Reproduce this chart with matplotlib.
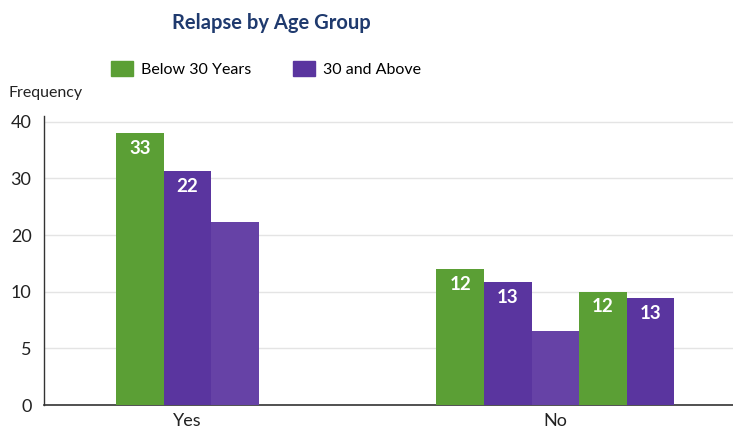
import numpy as np
import matplotlib.pyplot as plt
from matplotlib.patches import Patch

plt.rcParams['font.family'] = ['Lato', 'DejaVu Sans']

# Data
categories = ['Yes', 'No']
yes_values = [38, 31.3, 22.3]
yes_labels = ['33', '22', '']
yes_series = ['below', 'above', 'above_light']
no_values = [14, 11.7, 6.5, 10, 9.4]
no_labels = ['12', '13', '', '12', '13']
no_series = ['below', 'above', 'above_light', 'below', 'above']
yticks = [0, 5, 10, 20, 30, 40]

colors = {'below': '#5b9f35', 'above': '#5a359f', 'above_light': '#6642a6'}


# uneven axis: 0-10 in steps of 5, then 10-40 in steps of 10
def fwd(v):
    v = np.asarray(v, dtype=float)
    return np.where(v <= 10, v / 5, 2 + (v - 10) / 10)


def inv(p):
    p = np.asarray(p, dtype=float)
    return np.where(p <= 2, p * 5, 10 + (p - 2) * 10)


fig = plt.figure(figsize=(7.33, 4.32), dpi=100)
ax = fig.add_axes([44 / 733, 27 / 432, 689 / 733, 289 / 432])
ax.set_yscale('function', functions=(fwd, inv))

centers = [3.02, 10.76]
groups = [(yes_values, yes_labels, yes_series), (no_values, no_labels, no_series)]
for c, (vals, labs, ser) in zip(centers, groups):
    n = len(vals)
    xs = c + np.arange(n) - (n - 1) / 2
    for x, v, lab, s in zip(xs, vals, labs, ser):
        ax.bar(x, v, width=1.0, color=colors[s], zorder=3)
        if lab:
            ax.annotate(lab, (x, v), xytext=(0, -11), textcoords='offset points',
                        ha='center', va='center', color='white',
                        fontsize=13.5, fontweight='bold', zorder=4)

ax.set_xlim(0, 14.5)
ax.set_ylim(0, 41)
ax.set_yticks(yticks)
ax.set_yticklabels([str(t) for t in yticks])
ax.set_xticks(centers)
ax.set_xticklabels(categories)
ax.yaxis.set_minor_locator(plt.NullLocator())
ax.tick_params(axis='both', length=0, labelsize=13, colors='#222222')
ax.tick_params(axis='y', pad=9)
ax.tick_params(axis='x', pad=6)
ax.grid(axis='y', color='#e4e4e4', linewidth=1, zorder=0)
for side in ['top', 'right']:
    ax.spines[side].set_visible(False)
ax.spines['left'].set_color('#333333')
ax.spines['bottom'].set_color('#333333')
ax.spines['left'].set_linewidth(1)
ax.spines['bottom'].set_linewidth(1.2)

fig.text(271 / 733, 1 - 23 / 432, 'Relapse by Age Group', ha='center', va='center',
         fontsize=14.5, fontweight='bold', color='#1f3a6e')
fig.text(8 / 733, 1 - 93 / 432, 'Frequency', ha='left', va='center',
         fontsize=11.5, color='#222222')

handles = [Patch(color=colors['below'], label='Below 30 Years'),
           Patch(color=colors['above'], label='30 and Above')]
fig.legend(handles=handles, loc='center', bbox_to_anchor=(266 / 733, 1 - 69 / 432),
           ncol=2, frameon=False, fontsize=11.5, handlelength=1.4, handleheight=1.1,
           handletextpad=0.5, columnspacing=2.6)

fig.savefig('out.png', dpi=100)
